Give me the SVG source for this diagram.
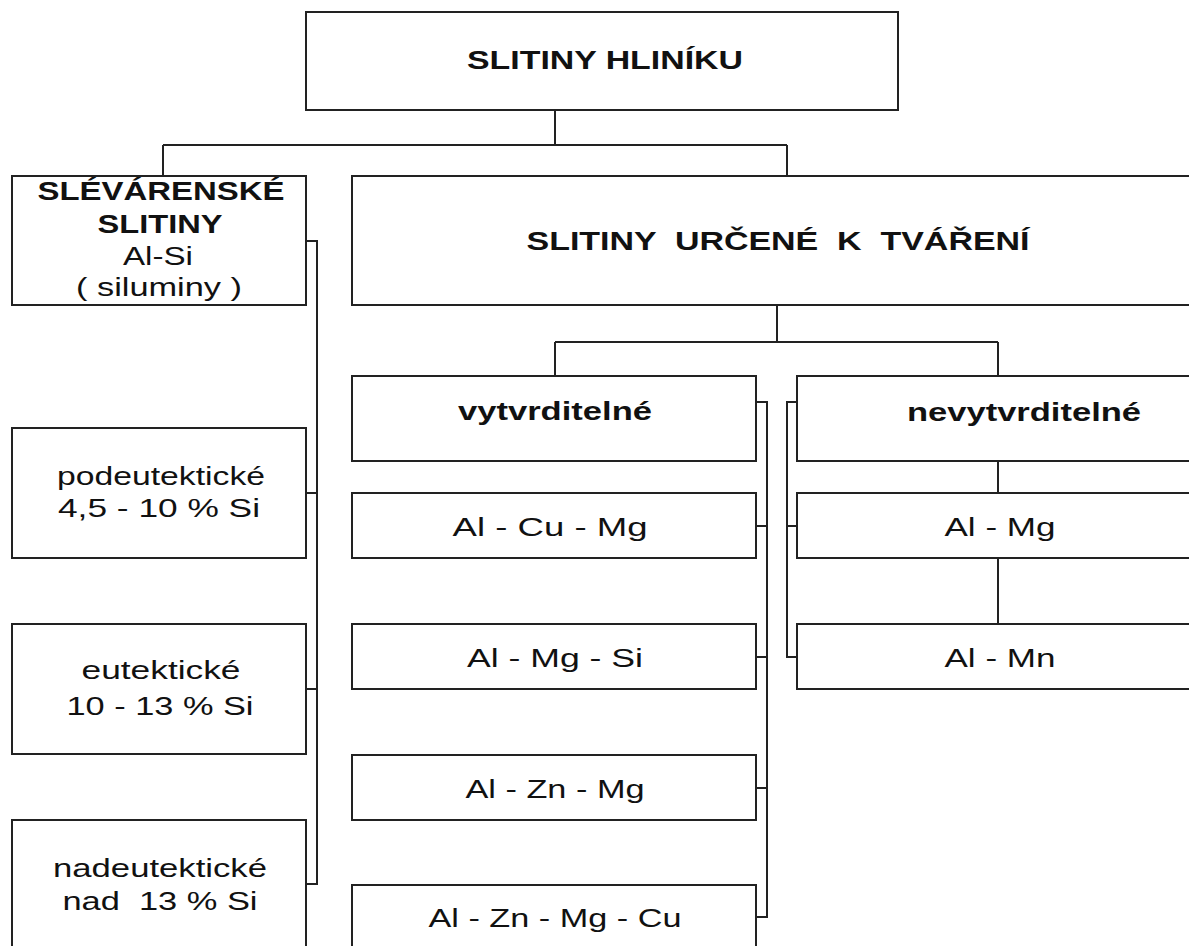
<svg xmlns="http://www.w3.org/2000/svg" width="1189" height="946" viewBox="0 0 1189 946">
<style>
.box{fill:#fff;stroke:#222;stroke-width:2}
.con{fill:none;stroke:#222;stroke-width:2}
text{font-family:"Liberation Sans",Arial,sans-serif;font-size:25px;fill:#111;text-anchor:middle;white-space:pre}
.b{font-weight:bold}
</style>
<rect width="1189" height="946" fill="#fff"/>
<g id="connectors" class="con">
<path d="M555,110V145M163,145H787M163,145V176M787,145V176"/>
<path d="M777,305V342M555,342H998M555,342V376M998,342V376"/>
<path d="M998,461V493M998,558V624"/>
<path d="M306,241H317V884H306M306,493H317M306,689H317"/>
<path d="M756,402H767V917H756M756,526H767M756,657H767M756,788H767"/>
<path d="M797,402H787V657H797M787,526H797"/>
</g>
<g id="root"><rect class="box" x="306" y="12" width="592" height="98"/><text class="b" x="605" y="69" textLength="276" lengthAdjust="spacingAndGlyphs">SLITINY HLINÍKU</text></g>
<g id="slevarenske"><rect class="box" x="12" y="176" width="294" height="129"/>
<text class="b" x="161" y="200" textLength="247" lengthAdjust="spacingAndGlyphs">SLÉVÁRENSKÉ</text>
<text class="b" x="160" y="233" textLength="125" lengthAdjust="spacingAndGlyphs">SLITINY</text>
<text x="158" y="265" textLength="70" lengthAdjust="spacingAndGlyphs">Al-Si</text>
<text x="159" y="296" textLength="166" lengthAdjust="spacingAndGlyphs">( siluminy )</text></g>
<g id="tvareni"><rect class="box" x="352" y="176" width="850" height="129"/><text class="b" x="778" y="250" xml:space="preserve" textLength="503" lengthAdjust="spacingAndGlyphs">SLITINY  URČENÉ  K  TVÁŘENÍ</text></g>
<g id="vytvrditelne"><rect class="box" x="352" y="376" width="404" height="85"/><text class="b" x="555" y="420" textLength="194" lengthAdjust="spacingAndGlyphs">vytvrditelné</text></g>
<g id="nevytvrditelne"><rect class="box" x="797" y="376" width="405" height="85"/><text class="b" x="1024" y="421" textLength="234" lengthAdjust="spacingAndGlyphs">nevytvrditelné</text></g>
<g id="alcumg"><rect class="box" x="352" y="493" width="404" height="65"/><text x="550" y="536" textLength="195" lengthAdjust="spacingAndGlyphs">Al - Cu - Mg</text></g>
<g id="almgsi"><rect class="box" x="352" y="624" width="404" height="65"/><text x="555" y="667" textLength="176" lengthAdjust="spacingAndGlyphs">Al - Mg - Si</text></g>
<g id="alznmg"><rect class="box" x="352" y="755" width="404" height="65"/><text x="555" y="798" textLength="179" lengthAdjust="spacingAndGlyphs">Al - Zn - Mg</text></g>
<g id="alznmgcu"><rect class="box" x="352" y="885" width="404" height="70"/><text x="555" y="927" textLength="253" lengthAdjust="spacingAndGlyphs">Al - Zn - Mg - Cu</text></g>
<g id="almg"><rect class="box" x="797" y="493" width="405" height="65"/><text x="1000" y="536" textLength="111" lengthAdjust="spacingAndGlyphs">Al - Mg</text></g>
<g id="almn"><rect class="box" x="797" y="624" width="405" height="65"/><text x="1000" y="667" textLength="111" lengthAdjust="spacingAndGlyphs">Al - Mn</text></g>
<g id="podeutekticke"><rect class="box" x="12" y="428" width="294" height="130"/>
<text x="161" y="485" textLength="208" lengthAdjust="spacingAndGlyphs">podeutektické</text>
<text x="159" y="517" textLength="202" lengthAdjust="spacingAndGlyphs">4,5 - 10 % Si</text></g>
<g id="eutekticke"><rect class="box" x="12" y="624" width="294" height="130"/>
<text x="161" y="679" textLength="159" lengthAdjust="spacingAndGlyphs">eutektické</text>
<text x="160" y="715" textLength="187" lengthAdjust="spacingAndGlyphs">10 - 13 % Si</text></g>
<g id="nadeutekticke"><rect class="box" x="12" y="820" width="294" height="135"/>
<text x="160" y="877" textLength="214" lengthAdjust="spacingAndGlyphs">nadeutektické</text>
<text x="160" y="910" xml:space="preserve" textLength="195" lengthAdjust="spacingAndGlyphs">nad  13 % Si</text></g>
</svg>
